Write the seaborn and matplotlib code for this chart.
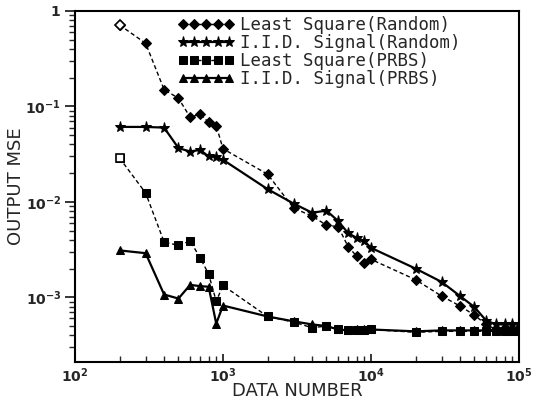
import numpy as np
import pandas as pd
import matplotlib
matplotlib.use("Agg")
import matplotlib.pyplot as plt
import seaborn as sns
from matplotlib.ticker import FixedLocator, FixedFormatter, LogLocator, NullFormatter

# data
data_number = [200, 300, 400, 500, 600, 700, 800, 900, 1000,
               2000, 3000, 4000, 5000, 6000, 7000, 8000, 9000, 10000,
               20000, 30000, 40000, 50000, 60000, 70000, 80000, 90000, 100000]

ls_random = [0.714, 0.459, 0.150, 0.122, 0.077, 0.083, 0.068, 0.063, 0.036,
             0.0195, 0.0086, 0.0071, 0.0057, 0.0055, 0.0034, 0.0027, 0.0023, 0.0025,
             0.00153, 0.00103, 0.00081, 0.00065, 0.00052, 0.00046, 0.00048, 0.00047, 0.00048]

iid_random = [0.061, 0.061, 0.060, 0.0366, 0.0337, 0.0351, 0.0299, 0.0295, 0.0276,
              0.0136, 0.0096, 0.0077, 0.0081, 0.0063, 0.0047, 0.0042, 0.0039, 0.0033,
              0.0020, 0.00145, 0.00103, 0.00079, 0.00057, 0.00052, 0.00052, 0.00052, 0.00052]

ls_prbs = [0.0288, 0.0124, 0.0038, 0.0035, 0.0039, 0.0026, 0.00175, 0.00091, 0.00133,
           0.00063, 0.00055, 0.00048, 0.00050, 0.00046, 0.000455, 0.000455, 0.000455, 0.00046,
           0.00043, 0.00044, 0.00044, 0.00044, 0.00044, 0.00044, 0.00044, 0.00044, 0.00044]

iid_prbs = [0.0031, 0.0029, 0.00107, 0.00097, 0.00135, 0.00131, 0.00129, 0.00053, 0.00082,
            0.00063, 0.00056, 0.00052, 0.00050, 0.00046, 0.00045, 0.00046, 0.00046, 0.00046,
            0.00044, 0.00045, 0.00045, 0.00045, 0.00045, 0.00045, 0.00046, 0.00046, 0.00046]

series_names = ["Least Square(Random)", "I.I.D. Signal(Random)",
                "Least Square(PRBS)", "I.I.D. Signal(PRBS)"]
series_values = [ls_random, iid_random, ls_prbs, iid_prbs]

x_ticks = [1e2, 1e3, 1e4, 1e5]
x_tick_labels = [r"$\mathbf{10^{2}}$", r"$\mathbf{10^{3}}$", r"$\mathbf{10^{4}}$", r"$\mathbf{10^{5}}$"]
y_ticks = [1e-3, 1e-2, 1e-1, 1]
y_tick_labels = [r"$\mathbf{10^{-3}}$", r"$\mathbf{10^{-2}}$", r"$\mathbf{10^{-1}}$", r"$\mathbf{1}$"]

df = pd.concat([
    pd.DataFrame({"n": data_number, "mse": vals, "series": name})
    for name, vals in zip(series_names, series_values)
], ignore_index=True)

sns.set_style("ticks")
plt.rcParams["font.family"] = ["DejaVu Sans"]

fig = plt.figure(figsize=(5.4, 4.03), dpi=100)
ax = fig.add_axes([75 / 540, 1 - 362 / 403, 444 / 540, 351 / 403])

markers = {series_names[0]: "D", series_names[1]: "*",
           series_names[2]: "s", series_names[3]: "^"}
dashes = {series_names[0]: (3, 2), series_names[1]: "",
          series_names[2]: (3, 2), series_names[3]: ""}
palette = {n: "black" for n in series_names}

sns.lineplot(data=df, x="n", y="mse", hue="series", style="series",
             hue_order=series_names, style_order=series_names,
             markers=markers, dashes=dashes, palette=palette,
             markersize=5.5, markeredgecolor="black", legend=False, ax=ax)

for line, name in zip(ax.lines, series_names):
    if name.startswith("I.I.D."):
        line.set_linewidth(1.6)
        line.set_markersize(8 if line.get_marker() == "*" else 6)
    else:
        line.set_linewidth(1.0)
handles = list(ax.lines[:4])

# first point of the least square curves drawn as an open marker
for name, vals in zip(series_names, series_values):
    if name.startswith("Least"):
        ax.plot([data_number[0]], [vals[0]], marker=markers[name], ls="none",
                mfc="white", mec="black", mew=1.2, ms=5.5, zorder=5)

ax.set_xscale("log")
ax.set_yscale("log")
ax.set_xlim(1e2, 1e5)
ax.set_ylim(2.1e-4, 1)

ax.xaxis.set_major_locator(FixedLocator(x_ticks))
ax.xaxis.set_major_formatter(FixedFormatter(x_tick_labels))
ax.yaxis.set_major_locator(FixedLocator(y_ticks))
ax.yaxis.set_major_formatter(FixedFormatter(y_tick_labels))
for axis in (ax.xaxis, ax.yaxis):
    axis.set_minor_locator(LogLocator(base=10, subs=np.arange(2, 10)))
    axis.set_minor_formatter(NullFormatter())

ax.tick_params(axis="x", which="major", direction="in", length=6, width=1.3, labelsize=10, pad=3)
ax.tick_params(axis="x", which="minor", direction="in", length=4, width=1.0)
ax.tick_params(axis="y", which="major", direction="out", length=7, width=1.3, labelsize=10, pad=3)
ax.tick_params(axis="y", which="minor", direction="out", length=4, width=1.0)
for sp in ax.spines.values():
    sp.set_linewidth(1.5)
    sp.set_color("black")

ax.set_xlabel("DATA NUMBER", fontsize=13, labelpad=-2)
ax.set_ylabel("OUTPUT MSE", fontsize=13, labelpad=0)

ax.legend(handles, series_names, loc="upper left", bbox_to_anchor=(0.215, 1.005),
          frameon=False, numpoints=5, handlelength=3.3, handletextpad=0.3,
          labelspacing=0.0, borderaxespad=0,
          prop={"family": "DejaVu Sans Mono", "size": 12.5})

fig.savefig("out.png", dpi=100)
